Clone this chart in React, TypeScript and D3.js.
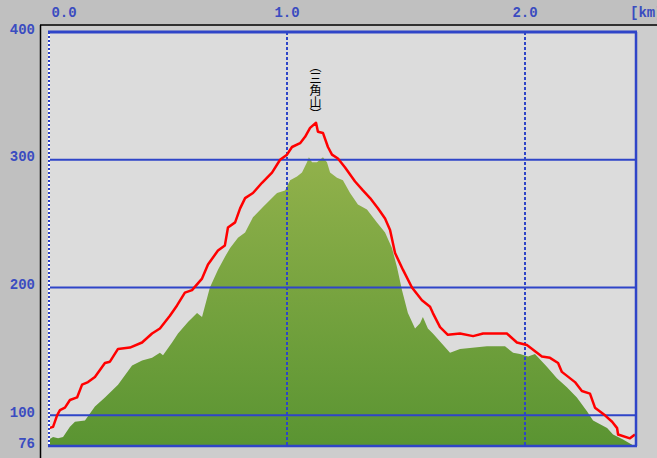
import React from "react";
import * as d3 from "d3";

const W = 657;
const H = 458;

// Red track profile: distance (km), elevation (m)
const trackKm = [0, 0.017, 0.034, 0.046, 0.067, 0.088, 0.118, 0.139, 0.164, 0.193, 0.235, 0.256, 0.29, 0.34, 0.391, 0.433, 0.466, 0.508, 0.538, 0.571, 0.601, 0.643, 0.668, 0.71, 0.739, 0.752, 0.782, 0.803, 0.824, 0.857, 0.895, 0.937, 0.971, 1.0, 1.021, 1.055, 1.076, 1.097, 1.122, 1.13, 1.151, 1.172, 1.189, 1.214, 1.244, 1.286, 1.319, 1.349, 1.382, 1.412, 1.433, 1.454, 1.487, 1.525, 1.567, 1.601, 1.613, 1.643, 1.676, 1.727, 1.782, 1.824, 1.924, 1.966, 2.008, 2.071, 2.105, 2.139, 2.155, 2.21, 2.239, 2.273, 2.294, 2.336, 2.366, 2.387, 2.391, 2.441, 2.462];
const trackElev = [90, 91, 100, 104, 106, 112, 114, 124, 126, 130, 141, 142, 152, 153, 157, 164, 168, 178, 186, 196, 198, 207, 218, 229, 233, 247, 251, 262, 270, 274, 282, 290, 300, 304, 310, 313, 318, 325, 329, 322, 321, 310, 304, 301, 294, 283, 276, 270, 262, 254, 245, 227, 214, 200, 190, 185, 180, 169, 163, 164, 162, 164, 164, 157, 155, 146, 145, 141, 134, 126, 119, 117, 106, 100, 95, 90, 85, 82, 85];

// Green terrain profile: distance (km), elevation (m)
const groundKm = [0, 0.017, 0.038, 0.059, 0.088, 0.109, 0.151, 0.193, 0.235, 0.29, 0.349, 0.391, 0.433, 0.466, 0.479, 0.517, 0.542, 0.584, 0.622, 0.643, 0.676, 0.71, 0.739, 0.761, 0.794, 0.824, 0.857, 0.899, 0.958, 0.992, 1.013, 1.042, 1.063, 1.084, 1.092, 1.105, 1.126, 1.151, 1.168, 1.181, 1.21, 1.235, 1.265, 1.298, 1.336, 1.378, 1.412, 1.441, 1.462, 1.483, 1.508, 1.538, 1.559, 1.571, 1.592, 1.613, 1.685, 1.727, 1.84, 1.916, 1.95, 1.979, 2.013, 2.042, 2.092, 2.134, 2.176, 2.218, 2.261, 2.286, 2.345, 2.37, 2.412, 2.45];
const groundElev = [81, 83, 82, 83, 91, 95, 96, 107, 114, 124, 139, 143, 145, 149, 147, 157, 164, 173, 180, 177, 200, 214, 224, 231, 239, 243, 255, 263, 274, 276, 284, 287, 290, 298, 302, 298, 298, 302, 298, 290, 286, 284, 274, 265, 261, 251, 243, 231, 216, 198, 180, 168, 172, 177, 168, 164, 149, 152, 154, 154, 149, 148, 146, 148, 138, 129, 122, 114, 103, 96, 90, 85, 81, 77];

const xTicks = [0, 1, 2];
const xTickLabels = ["0.0", "1.0", "2.0"];
const yTicks = [400, 300, 200, 100, 76];
const gridY = [300, 200, 100];
const unitLabel = "[km]";
const peakKm = 1.122;
const peakLabel = "（三角山）";

const PL = 49, PR = 636, PT = 32, PB = 446;

export default function App() {
  const x = d3.scaleLinear().domain([0, (PR - PL) / 238]).range([PL, PR]);
  const y = d3.scaleLinear().domain([76, 400]).range([PB, PT]);

  const track = trackKm.map((k, i) => [k, trackElev[i]] as [number, number]);
  const ground = groundKm.map((k, i) => [k, groundElev[i]] as [number, number]);

  const line = d3.line<[number, number]>().x(d => x(d[0])).y(d => y(d[1]));
  const area = d3.area<[number, number]>().x(d => x(d[0])).y0(y(76)).y1(d => y(d[1]));

  const blue = "#2f45c8";
  const labelBlue = "#3a4cc0";
  const font = "'Liberation Mono', 'DejaVu Sans Mono', monospace";

  return (
    <svg width={W} height={H} style={{ position: "absolute", left: 0, top: 0, display: "block" }}>
      <defs>
        <linearGradient id="gg" gradientUnits="userSpaceOnUse" x1={0} y1={150} x2={0} y2={PB}>
          <stop offset="0" stopColor="#93b24c" />
          <stop offset="1" stopColor="#5a9432" />
        </linearGradient>
        <clipPath id="pc">
          <rect x={PL} y={PT} width={PR - PL} height={PB - PT} />
        </clipPath>
      </defs>
      <rect x={0} y={0} width={W} height={H} fill="#c0c0c0" />
      <rect x={41} y={26} width={W - 41} height={H - 26} fill="#cdcdcd" />
      <line x1={40} y1={25} x2={W} y2={25} stroke="#000" strokeWidth={1.5} />
      <line x1={40.5} y1={25} x2={40.5} y2={H} stroke="#000" strokeWidth={1.5} />

      <rect x={PL} y={PT} width={PR - PL} height={PB - PT} fill="#dcdcdc" />

      <g clipPath="url(#pc)">
        <path d={area(ground) || ""} fill="url(#gg)" />
      </g>

      {gridY.map(v => (
        <line key={v} x1={PL} x2={PR} y1={y(v)} y2={y(v)} stroke={blue} strokeWidth={2} />
      ))}
      {xTicks.slice(1).map(v => (
        <line key={v} x1={x(v)} x2={x(v)} y1={PT} y2={PB} stroke={blue} strokeWidth={2} strokeDasharray="3,2" />
      ))}

      <path d={line(track) || ""} fill="none" stroke="#ff0000" strokeWidth={2.5} strokeLinejoin="round" />

      {/* plot border */}
      <line x1={PL - 1} x2={PR + 1} y1={PT} y2={PT} stroke={blue} strokeWidth={3} />
      <line x1={PR} x2={PR} y1={PT} y2={PB} stroke={blue} strokeWidth={2.5} />
      <line x1={PL - 1} x2={PR + 1} y1={PB} y2={PB} stroke={blue} strokeWidth={2.5} />
      <line x1={PL} x2={PL} y1={PT} y2={PB} stroke="#ffffff" strokeWidth={2} />
      <line x1={PL} x2={PL} y1={PT} y2={PB} stroke={blue} strokeWidth={2} strokeDasharray="2,2" />

      {/* y labels */}
      {yTicks.map(v => (
        <text key={v} x={35} y={y(v) - 2.5} textAnchor="end" dominantBaseline="central"
          fontFamily={font} fontWeight="bold" fontSize={14} fill={labelBlue}>{v}</text>
      ))}
      {/* x labels */}
      {xTicks.map((v, i) => (
        <text key={v} x={i === 0 ? x(v) + 15 : x(v)} y={13} textAnchor="middle" dominantBaseline="central"
          fontFamily={font} fontWeight="bold" fontSize={14} fill={labelBlue}>{xTickLabels[i]}</text>
      ))}
      <text x={630} y={13} textAnchor="start" dominantBaseline="central"
        fontFamily={font} fontWeight="bold" fontSize={14} fill={labelBlue}>{unitLabel}</text>

      {/* peak label, vertical */}
      <text x={x(peakKm) - 0.5} y={60} textAnchor="start"
        style={{ writingMode: "vertical-rl" }}
        fontFamily="'Noto Sans CJK JP', sans-serif" fontSize={12} fill="#000">{peakLabel}</text>
    </svg>
  );
}
